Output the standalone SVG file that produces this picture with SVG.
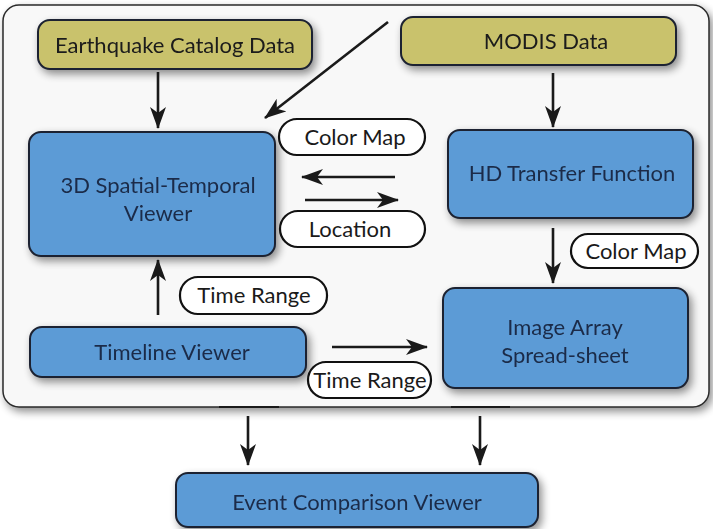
<svg xmlns="http://www.w3.org/2000/svg" width="713" height="529" viewBox="0 0 713 529">
<style>
.box{stroke:#1d2230;stroke-width:2}
.blue{fill:#5c9bd6}
.olive{fill:#c9c26c}
.pill{fill:#ffffff;stroke:#111;stroke-width:2.2}
.t{font-family:Lato,"Liberation Sans",sans-serif;font-size:22px;text-anchor:middle}
.tb{fill:#1b2c48}
.tk{fill:#1a1a1a}
.c{stroke:#1a1a1a;stroke-width:2.6;fill:none}
</style>
<defs>
<filter id="sh" x="-20%" y="-30%" width="140%" height="160%">
<feGaussianBlur in="SourceAlpha" stdDeviation="4"/>
<feOffset dx="3" dy="4"/>
<feComponentTransfer><feFuncA type="linear" slope="0.45"/></feComponentTransfer>
<feMerge><feMergeNode/><feMergeNode in="SourceGraphic"/></feMerge>
</filter>
<marker id="ah" viewBox="0 0 22 16" refX="21" refY="8" markerWidth="22" markerHeight="16" markerUnits="userSpaceOnUse" orient="auto">
<path d="M0,0 L22,8 L0,16 L6,8 Z" fill="#1a1a1a"/>
</marker>
</defs>
<g id="container" filter="url(#sh)">
<rect x="3" y="5" width="706" height="402" rx="16" fill="#f8f8f8" stroke="#2a2a2a" stroke-width="1.5"/>
</g>
<g id="earthquake" filter="url(#sh)">
<rect class="box olive" x="38" y="20" width="274" height="49" rx="12"/>
<text class="t tk" x="175" y="53">Earthquake Catalog Data</text>
</g>
<g id="modis" filter="url(#sh)">
<rect class="box olive" x="401" y="17" width="275" height="48" rx="12"/>
<text class="t tk" x="546" y="49">MODIS Data</text>
</g>
<g id="viewer3d" filter="url(#sh)">
<rect class="box blue" x="29" y="132" width="246" height="124" rx="12"/>
<text class="t tb" x="158" y="193">3D Spatial-Temporal</text>
<text class="t tb" x="158" y="221">Viewer</text>
</g>
<g id="hdtf" filter="url(#sh)">
<rect class="box blue" x="448" y="130" width="245" height="88" rx="12"/>
<text class="t tb" x="572" y="181">HD Transfer Function</text>
</g>
<g id="imagearray" filter="url(#sh)">
<rect class="box blue" x="443" y="288" width="245" height="100" rx="12"/>
<text class="t tb" x="565" y="335">Image Array</text>
<text class="t tb" x="565" y="363">Spread-sheet</text>
</g>
<g id="timeline" filter="url(#sh)">
<rect class="box blue" x="30" y="327" width="276" height="50" rx="12"/>
<text class="t tb" x="172" y="360">Timeline Viewer</text>
</g>
<g id="eventcomp" filter="url(#sh)">
<rect class="box blue" x="176" y="473" width="362" height="54" rx="12"/>
<text class="t tb" x="357" y="510">Event Comparison Viewer</text>
</g>
<g id="connectors">
<line class="c" x1="158" y1="72" x2="158" y2="128" marker-end="url(#ah)"/>
<line class="c" x1="553" y1="73" x2="553" y2="127" marker-end="url(#ah)"/>
<line class="c" x1="388" y1="22" x2="265" y2="118" marker-end="url(#ah)"/>
<line class="c" x1="395" y1="177" x2="302" y2="177" marker-end="url(#ah)"/>
<line class="c" x1="305" y1="200" x2="398" y2="200" marker-end="url(#ah)"/>
<line class="c" x1="553" y1="228" x2="553" y2="283" marker-end="url(#ah)"/>
<line class="c" x1="158" y1="315" x2="158" y2="260" marker-end="url(#ah)"/>
<line class="c" x1="332" y1="347" x2="427" y2="347" marker-end="url(#ah)"/>
<line x1="219" y1="407" x2="279" y2="407" stroke="#1a1a1a" stroke-width="2"/>
<line x1="451" y1="407" x2="510" y2="407" stroke="#1a1a1a" stroke-width="2"/>
<line class="c" x1="248" y1="416" x2="248" y2="465" marker-end="url(#ah)"/>
<line class="c" x1="480" y1="416" x2="480" y2="465" marker-end="url(#ah)"/>
</g>
<g id="label-colormap1">
<rect class="pill" x="279" y="119" width="146" height="36" rx="18"/>
<text class="t tk" x="355" y="145">Color Map</text>
</g>
<g id="label-location">
<rect class="pill" x="280" y="211" width="145" height="36" rx="18"/>
<text class="t tk" x="350" y="237">Location</text>
</g>
<g id="label-colormap2">
<rect class="pill" x="571" y="234" width="127" height="34" rx="17"/>
<text class="t tk" x="636" y="259">Color Map</text>
</g>
<g id="label-timerange1">
<rect class="pill" x="180" y="277" width="147" height="37" rx="18"/>
<text class="t tk" x="254" y="303">Time Range</text>
</g>
<g id="label-timerange2">
<rect class="pill" x="308" y="362" width="123" height="36" rx="18"/>
<text class="t tk" x="370" y="388">Time Range</text>
</g>
</svg>
